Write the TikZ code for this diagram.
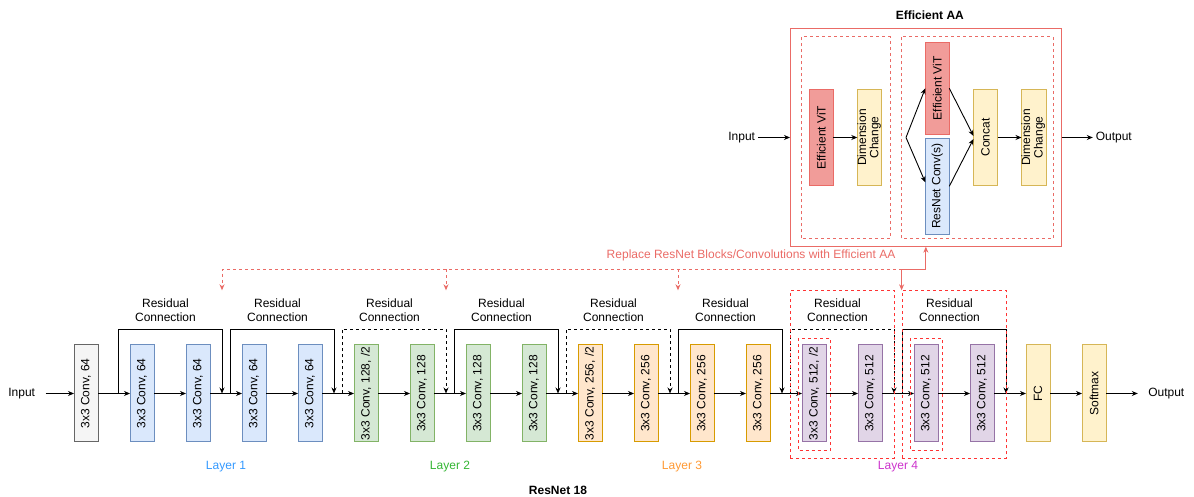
\documentclass[tikz,border=0pt]{standalone}
\usepackage{fontspec}
\setmainfont{Liberation Sans}
\usepackage{graphicx}
\usepackage{tikz}
\usetikzlibrary{positioning}
\usetikzlibrary{arrows.meta}
\usetikzlibrary{calc}
\usetikzlibrary{fit}
\tikzset{>={Stealth[length=6pt,width=5pt]}}

\definecolor{grayfill}{HTML}{F5F5F5}
\definecolor{graydraw}{HTML}{666666}
\definecolor{bluefill}{HTML}{DAE8FC}
\definecolor{bluedraw}{HTML}{6C8EBF}
\definecolor{greenfill}{HTML}{D5E8D4}
\definecolor{greendraw}{HTML}{82B366}
\definecolor{orangefill}{HTML}{FFE6CC}
\definecolor{orangedraw}{HTML}{D79B00}
\definecolor{purplefill}{HTML}{E1D5E7}
\definecolor{purpledraw}{HTML}{9673A6}
\definecolor{yellowfill}{HTML}{FFF2CC}
\definecolor{yellowdraw}{HTML}{D6B656}
\definecolor{vitfill}{HTML}{F19C99}
\definecolor{vitdraw}{HTML}{EA6B66}
\definecolor{aared}{HTML}{EA6B66}
\definecolor{boxred}{HTML}{FF3333}
\definecolor{layerone}{HTML}{3399FF}
\definecolor{layertwo}{HTML}{33B533}
\definecolor{layerthree}{HTML}{FF9933}
\definecolor{layerfour}{HTML}{CC33CC}

\newcommand{\vtext}[1]{\rotatebox{90}{#1}}
\newcommand{\vtwo}[2]{\rotatebox{90}{\fontsize{12}{12}\selectfont\begin{tabular}{@{}c@{}}#1\\#2\end{tabular}}}

\begin{document}
\begin{tikzpicture}[x=1pt, y=1pt, node distance=32pt, line width=0.9pt,
    font=\fontsize{12}{14.4}\selectfont,
    blk/.style={draw, line width=1pt, minimum width=24pt, minimum height=97pt, inner sep=0pt, outer sep=0pt},
    c0/.style={fill=grayfill, draw=graydraw},
    l1/.style={fill=bluefill, draw=bluedraw},
    l2/.style={fill=greenfill, draw=greendraw},
    l3/.style={fill=orangefill, draw=orangedraw},
    l4/.style={fill=purplefill, draw=purpledraw},
    yel/.style={fill=yellowfill, draw=yellowdraw},
    vit/.style={fill=vitfill, draw=vitdraw},
    term/.style={inner sep=0pt, outer sep=10.5pt},
    aterm/.style={inner sep=0pt, outer sep=3pt},
    rlabel/.style={align=center, inner sep=2pt, yshift=5pt},
    dashline/.style={dash pattern=on 3pt off 3pt},
    l4box/.style={draw=boxred, line width=0.8pt, dashline, inner sep=0pt},
    replace/.style={draw=aared, line width=0.9pt}]
\useasboundingbox (0,0) rectangle (1194,497);

% ResNet 18 chain
\node[blk, c0] (C0) at (86,103.5) {\vtext{3x3 Conv, 64}};
\node[blk, l1, right=of C0] (L1a) {\vtext{3x3 Conv, 64}};
\node[blk, l1, right=of L1a] (L1b) {\vtext{3x3 Conv, 64}};
\node[blk, l1, right=of L1b] (L1c) {\vtext{3x3 Conv, 64}};
\node[blk, l1, right=of L1c] (L1d) {\vtext{3x3 Conv, 64}};
\node[blk, l2, right=of L1d] (L2a) {\vtext{3x3 Conv, 128, /2}};
\node[blk, l2, right=of L2a] (L2b) {\vtext{3x3 Conv, 128}};
\node[blk, l2, right=of L2b] (L2c) {\vtext{3x3 Conv, 128}};
\node[blk, l2, right=of L2c] (L2d) {\vtext{3x3 Conv, 128}};
\node[blk, l3, right=of L2d] (L3a) {\vtext{3x3 Conv, 256, /2}};
\node[blk, l3, right=of L3a] (L3b) {\vtext{3x3 Conv, 256}};
\node[blk, l3, right=of L3b] (L3c) {\vtext{3x3 Conv, 256}};
\node[blk, l3, right=of L3c] (L3d) {\vtext{3x3 Conv, 256}};
\node[blk, l4, right=of L3d] (L4a) {\vtext{3x3 Conv, 512, /2}};
\node[blk, l4, right=of L4a] (L4b) {\vtext{3x3 Conv, 512}};
\node[blk, l4, right=of L4b] (L4c) {\vtext{3x3 Conv, 512}};
\node[blk, l4, right=of L4c] (L4d) {\vtext{3x3 Conv, 512}};
\node[blk, yel, right=of L4d] (FC) {\vtext{FC}};
\node[blk, yel, right=of FC] (SM) {\vtext{Softmax}};
\node[term] (IN) at (21.7,103.5) {Input};
\node[term] (OUT) at (1166.3,103.5) {Output};

\foreach \a/\b in {IN/C0, C0/L1a, L1a/L1b, L1b/L1c, L1c/L1d, L1d/L2a, L2a/L2b, L2b/L2c,
    L2c/L2d, L2d/L3a, L3a/L3b, L3b/L3c, L3c/L3d, L3d/L4a, L4a/L4b, L4b/L4c, L4c/L4d,
    L4d/FC, FC/SM, SM/OUT}
  \draw[->] (\a) -- (\b);

% residual connections
\foreach \a/\b in {L1a/L1b, L1c/L1d, L2c/L2d, L3c/L3d, L4c/L4d}
  \draw[->] ([xshift=-12pt]\a.west) -- ++(0,64)
    -| node[pos=0.25, above, xshift=-4.5pt, rlabel] {Residual\\Connection} ([xshift=12pt]\b.east);
\foreach \a/\b in {L2a/L2b, L3a/L3b, L4a/L4b}
  \draw[->, dashline] ([xshift=-12pt]\a.west) -- ++(0,64)
    -| node[pos=0.25, above, xshift=-4.5pt, rlabel] {Residual\\Connection} ([xshift=12pt]\b.east);

\node[text=layerone] (T1) at ($(L1b)!0.5!(L1c)+(0,-73.2)$) {Layer 1};
\node[text=layertwo] (T2) at ($(L2b)!0.5!(L2c)+(0,-73.2)$) {Layer 2};
\node[text=layerthree] (T3) at ($(L3b)!0.5!(L3c)+(8,-73.2)$) {Layer 3};
\node[text=layerfour] (T4) at ($(L4b)!0.5!(L4c)+(0,-73.2)$) {Layer 4};
\node[font=\fontsize{12}{14.4}\selectfont\bfseries] (RN) at (558,7) {ResNet 18};

% layer 4 replaced blocks
\node[l4box, fit={([shift={(-12pt,54.3pt)}]L4a.north west) ([shift={(12pt,-16.3pt)}]L4b.south east)}] (R4a) {};
\node[l4box, fit={([shift={(-12pt,54.3pt)}]L4c.north west) ([shift={(12pt,-16.3pt)}]L4d.south east)}] (R4b) {};
\draw[l4box] ([shift={(-4pt,6.7pt)}]L4a.north west) rectangle ([shift={(4pt,-8.7pt)}]L4a.south east);
\draw[l4box] ([shift={(-4pt,6.7pt)}]L4c.north west) rectangle ([shift={(4pt,-8.7pt)}]L4c.south east);

% Efficient AA
\node[draw=aared, line width=1pt, minimum width=271.7pt, minimum height=218.4pt, inner sep=0pt, outer sep=0pt] (AA) at (925.85,359.5) {};
\node[font=\fontsize{12}{14.4}\selectfont\bfseries, above=5pt of AA, xshift=4pt] (AAT) {Efficient AA};
\draw[draw=aared, line width=0.8pt, dashline] (801.7,258.7) rectangle (890,460.3);
\draw[draw=aared, line width=0.8pt, dashline] (901,258.7) rectangle (1053.3,460.3);

\node[blk, vit, minimum height=96pt] (VL) at (821.3,359.5) {\vtext{Efficient ViT}};
\node[blk, yel, minimum height=96pt, right=24pt of VL] (DL) {\vtwo{Dimension}{Change}};
\coordinate (fork) at (906,359.5);
\node[blk, vit, minimum height=92pt] (VR) at (937.3,408.7) {\vtext{Efficient ViT}};
\node[blk, l1, minimum height=96pt, below=4pt of VR] (RC) {\vtext{ResNet Conv(s)}};
\node[blk, yel, minimum height=96pt] (CC) at (985.5,359.5) {\vtext{Concat}};
\node[blk, yel, minimum height=96pt, right=24pt of CC] (DR) {\vtwo{Dimension}{Change}};
\node[aterm] (AIN) at (741.7,359.5) {Input};
\node[aterm] (AOUT) at (1113.8,359.5) {Output};

\draw[->] (AIN) -- (AA);
\draw[->] (VL) -- (DL);
\draw[->] (fork) -- (VR.west);
\draw[->] (fork) -- ([yshift=4pt]RC.west);
\draw[->] (VR.east) -- ([yshift=1.5pt]CC.west);
\draw[->] (RC.east) -- ([yshift=-1.5pt]CC.west);
\draw[->] (CC) -- (DR);
\draw[->] (AA) -- (AOUT);

% replace connector
\coordinate (rj) at ([yshift=-22.6pt]AA.south);
\coordinate (t1) at ([xshift=12pt]L1b.east |- R4b.north);
\coordinate (t2) at ([xshift=12pt]L2b.east |- R4b.north);
\coordinate (t3) at ([xshift=-12pt]L3c.west |- R4b.north);
\draw[replace, <->] (AA.south) -- (rj) -| (R4b.north west);
\draw[replace, dashline, ->] (rj -| R4b.north west) -| (t1);
\draw[replace, dashline, ->] (rj -| t2) -- (t2);
\draw[replace, dashline, ->] (rj -| t3) -- (t3);
\node[text=aared, anchor=east] (RL) at ([shift={(-2.5pt,14.3pt)}]rj -| R4b.north west) {Replace ResNet Blocks/Convolutions with Efficient AA};
\end{tikzpicture}
\end{document}
